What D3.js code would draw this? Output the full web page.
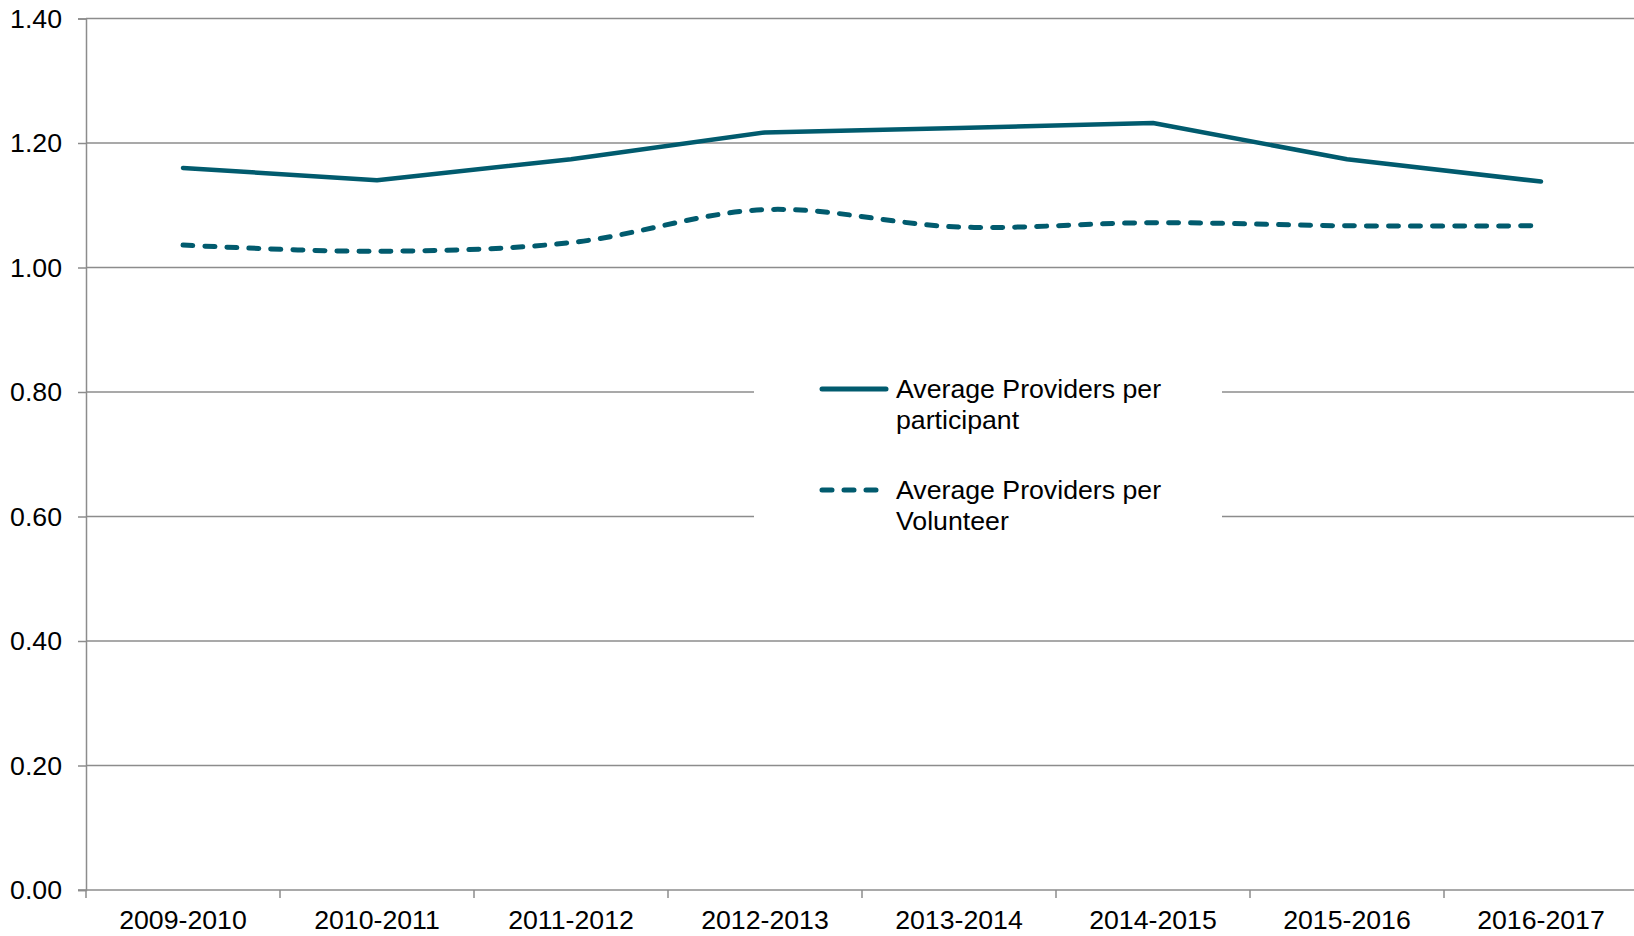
<!DOCTYPE html>
<html>
<head>
<meta charset="utf-8">
<script src="https://cdn.jsdelivr.net/npm/d3@7"></script>
<style>
  body { margin: 0; background: #fff; }
  svg { display: block; font-family: "Liberation Sans", Arial, sans-serif; }
</style>
</head>
<body>
<svg id="chart" width="1634" height="936"></svg>
<script>
var years = ["2009-2010", "2010-2011", "2011-2012", "2012-2013", "2013-2014", "2014-2015", "2015-2016", "2016-2017"]
var perParticipant = [1.160, 1.140, 1.174, 1.217, 1.224, 1.232, 1.174, 1.138]
var perVolunteer = [1.036, 1.026, 1.040, 1.093, 1.065, 1.072, 1.067, 1.067]
var yTicks = [0, 0.2, 0.4, 0.6, 0.8, 1.0, 1.2, 1.4]
var seriesNames = ["Average Providers per participant", "Average Providers per Volunteer"]

var width = 1634, height = 936
var margin = {top: 18.5, right: -4, bottom: 46, left: 86}
var teal = "#015b6e", grid = "#8c8c8c"
var fs = 26.7

var svg = d3.select("#chart")

var x = d3.scaleBand()
    .domain(years)
    .range([margin.left, width - margin.right])

var y = d3.scaleLinear()
    .domain([0, 1.4])
    .range([height - margin.bottom, margin.top])

// gridlines
svg.append("g")
  .selectAll("line")
  .data(yTicks.slice(1))
  .join("line")
    .attr("x1", margin.left)
    .attr("x2", width)
    .attr("y1", d => y(d))
    .attr("y2", d => y(d))
    .attr("stroke", grid)
    .attr("stroke-width", 1.5)

// y axis
var yAxis = svg.append("g")
    .attr("transform", `translate(${margin.left},0)`)
    .call(d3.axisLeft(y).tickValues(yTicks).tickFormat(d3.format(".2f")).tickSize(8).tickPadding(16))
yAxis.select(".domain").attr("stroke", grid).attr("stroke-width", 1.5)
yAxis.selectAll(".tick line").attr("stroke", grid).attr("stroke-width", 1.5)
yAxis.selectAll("text").attr("font-size", fs).attr("fill", "#000").attr("font-family", null)

// x axis: ticks at band boundaries
var xg = svg.append("g")
    .attr("transform", `translate(0,${y(0)})`)
xg.append("line")
    .attr("x1", margin.left - 8).attr("x2", width)
    .attr("stroke", grid).attr("stroke-width", 1.5)
xg.selectAll(".bt")
  .data(years)
  .join("line")
    .attr("class", "bt")
    .attr("x1", d => x(d)).attr("x2", d => x(d))
    .attr("y1", 0).attr("y2", 8)
    .attr("stroke", grid).attr("stroke-width", 1.5)
xg.selectAll("text")
  .data(years)
  .join("text")
    .attr("x", d => x(d) + x.bandwidth() / 2)
    .attr("y", 39)
    .attr("text-anchor", "middle")
    .attr("font-size", fs)
    .text(d => d)

// legend background hides gridlines
var lg = svg.append("g")
lg.append("rect")
    .attr("x", 754).attr("y", 345)
    .attr("width", 468).attr("height", 200)
    .attr("fill", "#fff")

var cx = d => x(years[d]) + x.bandwidth() / 2

var line1 = d3.line()
    .x((d, i) => cx(i))
    .y(d => y(d))
var line2 = d3.line()
    .x((d, i) => cx(i))
    .y(d => y(d))
    .curve(d3.curveCatmullRom.alpha(0.5))

svg.append("path")
    .attr("d", line1(perParticipant))
    .attr("fill", "none")
    .attr("stroke", teal)
    .attr("stroke-width", 4.5)
    .attr("stroke-linecap", "round")
    .attr("stroke-linejoin", "round")

svg.append("path")
    .attr("d", line2(perVolunteer))
    .attr("fill", "none")
    .attr("stroke", teal)
    .attr("stroke-width", 5)
    .attr("stroke-dasharray", "10,12")
    .attr("stroke-linecap", "round")

// legend entries
var legendRows = [
  {lines: ["Average Providers per", "participant"], dash: null, y: 389},
  {lines: ["Average Providers per", "Volunteer"], dash: "10,12", y: 490}
]
legendRows.forEach(r => {
  lg.append("line")
      .attr("x1", 822).attr("x2", 886)
      .attr("y1", r.y).attr("y2", r.y)
      .attr("stroke", teal)
      .attr("stroke-width", 5)
      .attr("stroke-linecap", "round")
      .attr("stroke-dasharray", r.dash)
  r.lines.forEach((t, i) => {
    lg.append("text")
        .attr("x", 896)
        .attr("y", r.y + 9 + i * 31)
        .attr("font-size", fs)
        .text(t)
  })
})
</script>
</body>
</html>
